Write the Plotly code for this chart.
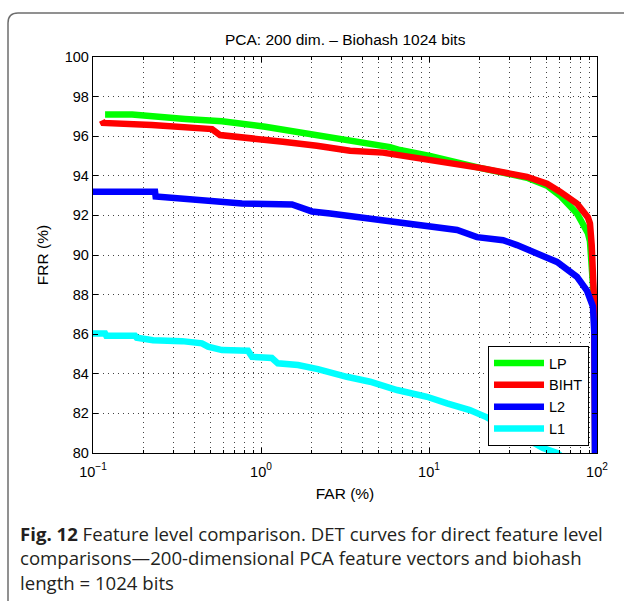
import plotly.graph_objects as go

# ---------------- data ----------------
lp_far = [0.118, 0.171, 0.353, 0.586, 1.06, 2.15, 3.39, 5.86, 6.71, 10.1, 20.1,
          38.3, 50.4, 60.2, 76.0, 88.3, 90.8, 93.0, 95.5, 97.2, 97.5]
lp_frr = [97.1, 97.1, 96.87, 96.75, 96.48, 96.06, 95.77, 95.45, 95.3, 95.0, 94.4,
          93.9, 93.5, 93.0, 92.1, 91.1, 90.7, 89.5, 88.0, 85.0, 80.0]

biht_far = [0.113, 0.115, 0.224, 0.511, 0.57, 1.06, 1.35, 2.15, 3.39, 5.32, 10.1,
            20.1, 38.3, 50.4, 60.2, 76.0, 88.3, 90.8, 93.0, 94.6, 96.0, 97.5]
biht_frr = [96.8, 96.67, 96.57, 96.36, 96.06, 95.86, 95.72, 95.52, 95.27, 95.17, 94.83,
            94.4, 93.95, 93.6, 93.2, 92.6, 91.9, 91.6, 90.5, 89.0, 87.7, 80.0]

l2_far = [0.1, 0.234, 0.236, 0.389, 0.70, 0.771, 1.53, 2.01, 2.58, 3.16, 5.86, 9.73,
          14.7, 19.3, 27.6, 33.4, 43.9, 57.8, 76.0, 87.1, 94.6, 96.5, 97.2]
l2_frr = [93.2, 93.2, 92.95, 92.8, 92.7, 92.6, 92.55, 92.2, 92.1, 92.0, 91.77, 91.5,
          91.26, 90.9, 90.75, 90.5, 90.1, 89.65, 88.9, 88.2, 87.4, 86.0, 80.0]

l1_far = [0.1, 0.118, 0.12, 0.178, 0.182, 0.228, 0.339, 0.445, 0.484, 0.586, 0.837,
          0.885, 1.16, 1.26, 1.66, 2.18, 3.24, 4.46, 6.45, 9.73, 12.8, 17.5, 22.1,
          47.7, 57.8, 62.0]
l1_frr = [86.04, 86.04, 85.92, 85.92, 85.82, 85.7, 85.65, 85.54, 85.37, 85.2, 85.17,
          84.86, 84.8, 84.53, 84.44, 84.24, 83.85, 83.6, 83.18, 82.84, 82.51, 82.17, 81.8,
          80.25, 80.0, 79.8]

series_names = ["LP", "BIHT", "L2", "L1"]
series_colors = ["#00ff00", "#ff0000", "#0000ff", "#00ffff"]

x_major = [0.1, 1, 10, 100]
x_major_text = ["10<sup>−1</sup>", "10<sup>0</sup>", "10<sup>1</sup>", "10<sup>2</sup>"]
x_minor = [m * d for d in (0.1, 1, 10) for m in range(2, 10)]
y_ticks = list(range(80, 101, 2))

title_text = "PCA: 200 dim. – Biohash 1024 bits"
caption_lines = [
    "<b>Fig. 12</b> Feature level comparison. DET curves for direct feature level",
    "comparisons—200-dimensional PCA feature vectors and biohash",
    "length = 1024 bits",
]

# ---------------- layout geometry (pixels) ----------------
W, H = 624, 601
L, R, T, B = 93, 597, 57, 453
pw, ph = R - L, B - T


def px(x):
    return (x - L) / pw


def py(y):
    return (B - y) / ph


fig = go.Figure()
for far, frr, name, col in zip([lp_far, biht_far, l2_far, l1_far],
                               [lp_frr, biht_frr, l2_frr, l1_frr],
                               series_names, series_colors):
    fig.add_trace(go.Scatter(x=far, y=frr, mode="lines", name=name,
                             line=dict(color=col, width=6.5)))

gridcol = "#444444"
fig.update_xaxes(
    type="log", range=[-1, 2],
    tickmode="array", tickvals=x_major, ticktext=x_major_text,
    ticks="inside", ticklen=5, tickcolor="black", ticklabelstandoff=5,
    showline=True, linecolor="black", linewidth=1.3, mirror="ticks",
    showgrid=True, gridcolor=gridcol, gridwidth=1, griddash="1px,4px",
    minor=dict(tickmode="array", tickvals=x_minor, ticks="inside", ticklen=3,
               tickcolor="black", showgrid=True, gridcolor=gridcol,
               griddash="1px,4px", gridwidth=1),
    tickfont=dict(family="Liberation Sans", size=14.5, color="black"),
    title=dict(text="FAR (%)", font=dict(family="Liberation Sans", size=15.5, color="black"),
               standoff=9),
    zeroline=False, automargin=False,
)
fig.update_yaxes(
    range=[80, 100], tickmode="array", tickvals=y_ticks,
    ticks="inside", ticklen=5, tickcolor="black",
    showline=True, linecolor="black", linewidth=1.3, mirror="ticks",
    showgrid=True, gridcolor=gridcol, gridwidth=1, griddash="1px,4px",
    tickfont=dict(family="Liberation Sans", size=14.5, color="black"),
    title=dict(text="FRR (%)", font=dict(family="Liberation Sans", size=15.5, color="black"),
               standoff=12),
    zeroline=False, automargin=False,
)

# outer rounded frame
r = 10
x0, y0 = 8, 13
x1, y1 = 660, 640
path = (f"M {px(x0)},{py(y1)} L {px(x0)},{py(y0 + r)} "
        f"Q {px(x0)},{py(y0)} {px(x0 + r)},{py(y0)} L {px(x1)},{py(y0)}")
fig.add_shape(type="path", path=path, xref="paper", yref="paper",
              line=dict(color="#6d6d6d", width=1.5), layer="above")

annotations = [dict(text=title_text, x=0.5, y=py(39), xref="paper", yref="paper",
                    showarrow=False, xanchor="center", yanchor="middle",
                    font=dict(family="Liberation Sans", size=15.5, color="black"))]
for i, line in enumerate(caption_lines):
    annotations.append(dict(text=line, x=px(18), y=py(533 + 24.5 * i), xref="paper",
                            yref="paper", showarrow=False, xanchor="left",
                            yanchor="middle",
                            font=dict(family="Open Sans", size=18.6, color="#231f20")))

fig.update_layout(
    width=W, height=H,
    margin=dict(l=L, r=W - R, t=T, b=H - B, pad=0),
    paper_bgcolor="white", plot_bgcolor="white",
    showlegend=True,
    legend=dict(x=px(589), y=py(446), xanchor="right", yanchor="bottom",
                bgcolor="white", bordercolor="black", borderwidth=1,
                font=dict(family="Liberation Sans", size=14.5, color="black"),
                itemwidth=50, tracegroupgap=0),
    annotations=annotations,
)

fig.write_html("out.html")
